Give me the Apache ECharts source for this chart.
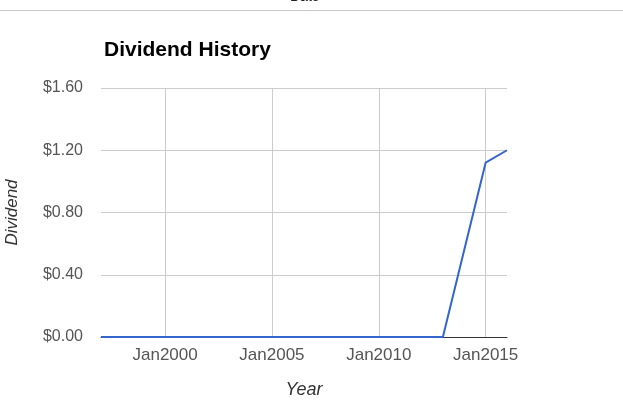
<!DOCTYPE html>
<html>
<head>
<meta charset="utf-8">
<script src="https://cdn.jsdelivr.net/npm/echarts@6/dist/echarts.min.js"></script>
<style>
  html, body { margin: 0; padding: 0; background: #fff; }
  #chart { width: 623px; height: 410px; }
</style>
</head>
<body>
<div id="chart"></div>
<script>
  // data
  var years = [1997, 1998, 1999, 2000, 2001, 2002, 2003, 2004, 2005, 2006, 2007,
               2008, 2009, 2010, 2011, 2012, 2013, 2015, 2016];
  var dividends = [0, 0, 0, 0, 0, 0, 0, 0, 0, 0, 0,
                   0, 0, 0, 0, 0, 0, 1.12, 1.20];
  var yearTicks = [2000, 2005, 2010, 2015];

  var points = years.map(function (y, i) { return [y, dividends[i]]; });

  var myChart = echarts.init(document.getElementById('chart'));
  var option = {
    animation: false,
    textStyle: { fontFamily: 'Liberation Sans, Arial, sans-serif' },
    title: {
      text: 'Dividend History',
      left: 99,
      top: 35,
      textStyle: { fontSize: 21, fontWeight: 'bold', color: '#000' }
    },
    graphic: [
      { type: 'line', shape: { x1: 0, y1: 10.5, x2: 623, y2: 10.5 },
        style: { stroke: '#c8c8c8', lineWidth: 1 } },
      { type: 'text', left: 290, top: -10,
        style: { text: 'Date', fontSize: 14, fill: '#222', fontFamily: 'Liberation Sans, Arial' } }
    ],
    grid: { left: 101, right: 116, top: 88, bottom: 73, outerBoundsMode: 'none' },
    xAxis: {
      type: 'value',
      min: 1997,
      max: 2016,
      name: 'Year',
      nameLocation: 'middle',
      nameGap: 44,
      nameTextStyle: { fontStyle: 'italic', fontSize: 18, color: '#333' },
      axisLine: { show: true, lineStyle: { color: '#333', width: 1 } },
      axisTick: { show: false, customValues: yearTicks },
      axisLabel: {
        customValues: yearTicks,
        formatter: function (v) { return 'Jan' + v; },
        color: '#555', fontSize: 17, margin: 10
      },
      splitLine: { show: true, lineStyle: { color: '#cccccc' } }
    },
    yAxis: {
      type: 'value',
      min: 0,
      max: 1.6,
      interval: 0.4,
      name: 'Dividend',
      nameLocation: 'middle',
      nameGap: 80,
      nameTextStyle: { fontStyle: 'italic', fontSize: 17, color: '#333' },
      axisLine: { show: false },
      axisTick: { show: false },
      axisLabel: {
        formatter: function (v) { return '$' + v.toFixed(2); },
        color: '#555', fontSize: 16, margin: 18
      },
      splitLine: { lineStyle: { color: '#cccccc' } }
    },
    series: [{
      type: 'line',
      data: points,
      showSymbol: false,
      lineStyle: { color: '#3366cc', width: 2 },
      itemStyle: { color: '#3366cc' }
    }]
  };
  myChart.setOption(option);
</script>
</body>
</html>
